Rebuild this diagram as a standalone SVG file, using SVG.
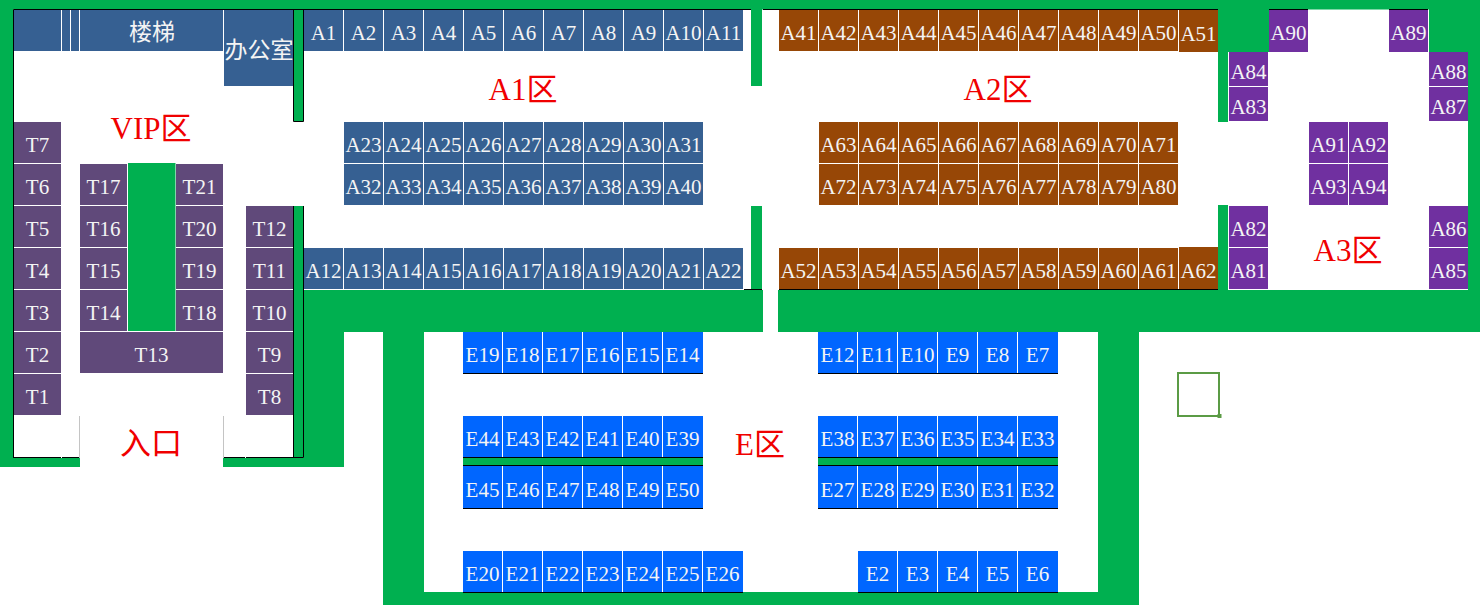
<svg xmlns="http://www.w3.org/2000/svg" width="1480" height="605" viewBox="0 0 1480 605">
<style>
text{font-family:"Liberation Serif","Noto Sans CJK SC",serif;text-anchor:middle;fill:#f4f4f4;font-size:21px}
.w{fill:#00b050}
.k{stroke:#000;stroke-width:1;fill:none}
.a rect{fill:#366092}.t rect{fill:#60497a}.b rect{fill:#974706}.p rect{fill:#7030a0}.e rect{fill:#0066ff}
text.r{fill:#f00000;font-size:31px}
text.c{font-size:23px}
</style>
<rect width="1480" height="605" fill="#fff"/>
<g id="walls">
<rect class="w" x="0" y="0" width="1480" height="9.5"/>
<rect class="w" x="0" y="0" width="13" height="467"/>
<rect class="w" x="0" y="458" width="80" height="9"/>
<rect class="w" x="223" y="458" width="121" height="9"/>
<rect class="w" x="293.500" y="10" width="10" height="111"/>
<rect class="w" x="293.500" y="206" width="10" height="252"/>
<rect class="w" x="304" y="290" width="40" height="177"/>
<rect class="w" x="304" y="290" width="459" height="42"/>
<rect class="w" x="778" y="290" width="702" height="42"/>
<rect class="w" x="383" y="332" width="41" height="273"/>
<rect class="w" x="383" y="592" width="756" height="13"/>
<rect class="w" x="1098" y="332" width="41" height="273"/>
<rect class="w" x="751" y="9" width="11" height="77"/>
<rect class="w" x="751" y="206" width="11" height="84"/>
<rect class="w" x="1218" y="9" width="10" height="113"/>
<rect class="w" x="1218" y="205" width="10" height="85"/>
<rect class="w" x="1219" y="9" width="50" height="43"/>
<rect class="w" x="1429" y="9" width="39" height="43"/>
<rect class="w" x="1468" y="0" width="12" height="332"/>
<rect class="w" x="128" y="163" width="47.500" height="168"/>
<rect class="w" x="463" y="458" width="240" height="8"/>
<rect class="w" x="818" y="458" width="240" height="8"/>
<path class="k" d="M13.500 458V9.500H751M763 9.500H1218M1269 9.500H1308M1389 9.500H1428M13 457.500H80M223 457.500H303.500V206M293.500 206V457M293.500 10V121.500H303.500V10M744 289.500H762M779 289.500H1218"/>
<path class="k" d="M463 373.500H703M818 373.500H1058M463 457.500H703M818 457.500H1058M463 465.500H703M818 465.500H1058M463 508.500H703M818 508.500H1058M463 592.500H743M858 592.500H1058"/>
<path d="M79.500 416V458M223.500 416V458" stroke="#c4c4c4" stroke-width="1" fill="none"/>
<path d="M61.500 452V458M245.500 452V458" stroke="#fff" stroke-width="1" fill="none"/>
</g>
<g id="stairs" class="a">
<rect x="14" y="10" width="47" height="41"/><rect x="62" y="10" width="8" height="41"/><rect x="71" y="10" width="8" height="41"/><rect x="80" y="10" width="143" height="41"/>
<text class="c" x="152" y="40">楼梯</text></g>
<g id="office" class="a"><rect x="224" y="10" width="69" height="76"/><text class="c" x="259" y="58">办公室</text></g>
<g id="T7" class="t"><rect x="14" y="122" width="47" height="41"/><text x="37.500" y="152">T7</text></g>
<g id="T6" class="t"><rect x="14" y="164" width="47" height="41"/><text x="37.500" y="194">T6</text></g>
<g id="T5" class="t"><rect x="14" y="206" width="47" height="41"/><text x="37.500" y="236">T5</text></g>
<g id="T4" class="t"><rect x="14" y="248" width="47" height="41"/><text x="37.500" y="278">T4</text></g>
<g id="T3" class="t"><rect x="14" y="290" width="47" height="41"/><text x="37.500" y="320">T3</text></g>
<g id="T2" class="t"><rect x="14" y="332" width="47" height="41"/><text x="37.500" y="362">T2</text></g>
<g id="T1" class="t"><rect x="14" y="374" width="47" height="41"/><text x="37.500" y="404">T1</text></g>
<g id="T17" class="t"><rect x="80" y="164" width="47" height="41"/><text x="103.500" y="194">T17</text></g>
<g id="T16" class="t"><rect x="80" y="206" width="47" height="41"/><text x="103.500" y="236">T16</text></g>
<g id="T15" class="t"><rect x="80" y="248" width="47" height="41"/><text x="103.500" y="278">T15</text></g>
<g id="T14" class="t"><rect x="80" y="290" width="47" height="41"/><text x="103.500" y="320">T14</text></g>
<g id="T13" class="t"><rect x="80" y="332" width="143" height="41"/><text x="151.500" y="362">T13</text></g>
<g id="T21" class="t"><rect x="176" y="164" width="47" height="41"/><text x="199.500" y="194">T21</text></g>
<g id="T20" class="t"><rect x="176" y="206" width="47" height="41"/><text x="199.500" y="236">T20</text></g>
<g id="T19" class="t"><rect x="176" y="248" width="47" height="41"/><text x="199.500" y="278">T19</text></g>
<g id="T18" class="t"><rect x="176" y="290" width="47" height="41"/><text x="199.500" y="320">T18</text></g>
<g id="T12" class="t"><rect x="246" y="206" width="47" height="41"/><text x="269.500" y="236">T12</text></g>
<g id="T11" class="t"><rect x="246" y="248" width="47" height="41"/><text x="269.500" y="278">T11</text></g>
<g id="T10" class="t"><rect x="246" y="290" width="47" height="41"/><text x="269.500" y="320">T10</text></g>
<g id="T9" class="t"><rect x="246" y="332" width="47" height="41"/><text x="269.500" y="362">T9</text></g>
<g id="T8" class="t"><rect x="246" y="374" width="47" height="41"/><text x="269.500" y="404">T8</text></g>
<g id="A1" class="a"><rect x="304" y="10" width="39" height="41"/><text x="323.500" y="40">A1</text></g>
<g id="A2" class="a"><rect x="344" y="10" width="39" height="41"/><text x="363.500" y="40">A2</text></g>
<g id="A3" class="a"><rect x="384" y="10" width="39" height="41"/><text x="403.500" y="40">A3</text></g>
<g id="A4" class="a"><rect x="424" y="10" width="39" height="41"/><text x="443.500" y="40">A4</text></g>
<g id="A5" class="a"><rect x="464" y="10" width="39" height="41"/><text x="483.500" y="40">A5</text></g>
<g id="A6" class="a"><rect x="504" y="10" width="39" height="41"/><text x="523.500" y="40">A6</text></g>
<g id="A7" class="a"><rect x="544" y="10" width="39" height="41"/><text x="563.500" y="40">A7</text></g>
<g id="A8" class="a"><rect x="584" y="10" width="39" height="41"/><text x="603.500" y="40">A8</text></g>
<g id="A9" class="a"><rect x="624" y="10" width="39" height="41"/><text x="643.500" y="40">A9</text></g>
<g id="A10" class="a"><rect x="664" y="10" width="39" height="41"/><text x="683.500" y="40">A10</text></g>
<g id="A11" class="a"><rect x="704" y="10" width="39" height="41"/><text x="723.500" y="40">A11</text></g>
<g id="A23" class="a"><rect x="344" y="122" width="39" height="41"/><text x="363.500" y="152">A23</text></g>
<g id="A24" class="a"><rect x="384" y="122" width="39" height="41"/><text x="403.500" y="152">A24</text></g>
<g id="A25" class="a"><rect x="424" y="122" width="39" height="41"/><text x="443.500" y="152">A25</text></g>
<g id="A26" class="a"><rect x="464" y="122" width="39" height="41"/><text x="483.500" y="152">A26</text></g>
<g id="A27" class="a"><rect x="504" y="122" width="39" height="41"/><text x="523.500" y="152">A27</text></g>
<g id="A28" class="a"><rect x="544" y="122" width="39" height="41"/><text x="563.500" y="152">A28</text></g>
<g id="A29" class="a"><rect x="584" y="122" width="39" height="41"/><text x="603.500" y="152">A29</text></g>
<g id="A30" class="a"><rect x="624" y="122" width="39" height="41"/><text x="643.500" y="152">A30</text></g>
<g id="A31" class="a"><rect x="664" y="122" width="39" height="41"/><text x="683.500" y="152">A31</text></g>
<g id="A32" class="a"><rect x="344" y="164" width="39" height="41"/><text x="363.500" y="194">A32</text></g>
<g id="A33" class="a"><rect x="384" y="164" width="39" height="41"/><text x="403.500" y="194">A33</text></g>
<g id="A34" class="a"><rect x="424" y="164" width="39" height="41"/><text x="443.500" y="194">A34</text></g>
<g id="A35" class="a"><rect x="464" y="164" width="39" height="41"/><text x="483.500" y="194">A35</text></g>
<g id="A36" class="a"><rect x="504" y="164" width="39" height="41"/><text x="523.500" y="194">A36</text></g>
<g id="A37" class="a"><rect x="544" y="164" width="39" height="41"/><text x="563.500" y="194">A37</text></g>
<g id="A38" class="a"><rect x="584" y="164" width="39" height="41"/><text x="603.500" y="194">A38</text></g>
<g id="A39" class="a"><rect x="624" y="164" width="39" height="41"/><text x="643.500" y="194">A39</text></g>
<g id="A40" class="a"><rect x="664" y="164" width="39" height="41"/><text x="683.500" y="194">A40</text></g>
<g id="A12" class="a"><rect x="304" y="248" width="39" height="41"/><text x="323.500" y="278">A12</text></g>
<g id="A13" class="a"><rect x="344" y="248" width="39" height="41"/><text x="363.500" y="278">A13</text></g>
<g id="A14" class="a"><rect x="384" y="248" width="39" height="41"/><text x="403.500" y="278">A14</text></g>
<g id="A15" class="a"><rect x="424" y="248" width="39" height="41"/><text x="443.500" y="278">A15</text></g>
<g id="A16" class="a"><rect x="464" y="248" width="39" height="41"/><text x="483.500" y="278">A16</text></g>
<g id="A17" class="a"><rect x="504" y="248" width="39" height="41"/><text x="523.500" y="278">A17</text></g>
<g id="A18" class="a"><rect x="544" y="248" width="39" height="41"/><text x="563.500" y="278">A18</text></g>
<g id="A19" class="a"><rect x="584" y="248" width="39" height="41"/><text x="603.500" y="278">A19</text></g>
<g id="A20" class="a"><rect x="624" y="248" width="39" height="41"/><text x="643.500" y="278">A20</text></g>
<g id="A21" class="a"><rect x="664" y="248" width="39" height="41"/><text x="683.500" y="278">A21</text></g>
<g id="A22" class="a"><rect x="704" y="248" width="39" height="41"/><text x="723.500" y="278">A22</text></g>
<g id="A41" class="b"><rect x="779" y="10" width="39" height="41"/><text x="798.500" y="40">A41</text></g>
<g id="A42" class="b"><rect x="819" y="10" width="39" height="41"/><text x="838.500" y="40">A42</text></g>
<g id="A43" class="b"><rect x="859" y="10" width="39" height="41"/><text x="878.500" y="40">A43</text></g>
<g id="A44" class="b"><rect x="899" y="10" width="39" height="41"/><text x="918.500" y="40">A44</text></g>
<g id="A45" class="b"><rect x="939" y="10" width="39" height="41"/><text x="958.500" y="40">A45</text></g>
<g id="A46" class="b"><rect x="979" y="10" width="39" height="41"/><text x="998.500" y="40">A46</text></g>
<g id="A47" class="b"><rect x="1019" y="10" width="39" height="41"/><text x="1038.500" y="40">A47</text></g>
<g id="A48" class="b"><rect x="1059" y="10" width="39" height="41"/><text x="1078.500" y="40">A48</text></g>
<g id="A49" class="b"><rect x="1099" y="10" width="39" height="41"/><text x="1118.500" y="40">A49</text></g>
<g id="A50" class="b"><rect x="1139" y="10" width="39" height="41"/><text x="1158.500" y="40">A50</text></g>
<g id="A51" class="b"><rect x="1179" y="10" width="39" height="42"/><text x="1198.500" y="41">A51</text></g>
<g id="A63" class="b"><rect x="819" y="122" width="39" height="41"/><text x="838.500" y="152">A63</text></g>
<g id="A64" class="b"><rect x="859" y="122" width="39" height="41"/><text x="878.500" y="152">A64</text></g>
<g id="A65" class="b"><rect x="899" y="122" width="39" height="41"/><text x="918.500" y="152">A65</text></g>
<g id="A66" class="b"><rect x="939" y="122" width="39" height="41"/><text x="958.500" y="152">A66</text></g>
<g id="A67" class="b"><rect x="979" y="122" width="39" height="41"/><text x="998.500" y="152">A67</text></g>
<g id="A68" class="b"><rect x="1019" y="122" width="39" height="41"/><text x="1038.500" y="152">A68</text></g>
<g id="A69" class="b"><rect x="1059" y="122" width="39" height="41"/><text x="1078.500" y="152">A69</text></g>
<g id="A70" class="b"><rect x="1099" y="122" width="39" height="41"/><text x="1118.500" y="152">A70</text></g>
<g id="A71" class="b"><rect x="1139" y="122" width="39" height="41"/><text x="1158.500" y="152">A71</text></g>
<g id="A72" class="b"><rect x="819" y="164" width="39" height="41"/><text x="838.500" y="194">A72</text></g>
<g id="A73" class="b"><rect x="859" y="164" width="39" height="41"/><text x="878.500" y="194">A73</text></g>
<g id="A74" class="b"><rect x="899" y="164" width="39" height="41"/><text x="918.500" y="194">A74</text></g>
<g id="A75" class="b"><rect x="939" y="164" width="39" height="41"/><text x="958.500" y="194">A75</text></g>
<g id="A76" class="b"><rect x="979" y="164" width="39" height="41"/><text x="998.500" y="194">A76</text></g>
<g id="A77" class="b"><rect x="1019" y="164" width="39" height="41"/><text x="1038.500" y="194">A77</text></g>
<g id="A78" class="b"><rect x="1059" y="164" width="39" height="41"/><text x="1078.500" y="194">A78</text></g>
<g id="A79" class="b"><rect x="1099" y="164" width="39" height="41"/><text x="1118.500" y="194">A79</text></g>
<g id="A80" class="b"><rect x="1139" y="164" width="39" height="41"/><text x="1158.500" y="194">A80</text></g>
<g id="A52" class="b"><rect x="779" y="248" width="39" height="41"/><text x="798.500" y="278">A52</text></g>
<g id="A53" class="b"><rect x="819" y="248" width="39" height="41"/><text x="838.500" y="278">A53</text></g>
<g id="A54" class="b"><rect x="859" y="248" width="39" height="41"/><text x="878.500" y="278">A54</text></g>
<g id="A55" class="b"><rect x="899" y="248" width="39" height="41"/><text x="918.500" y="278">A55</text></g>
<g id="A56" class="b"><rect x="939" y="248" width="39" height="41"/><text x="958.500" y="278">A56</text></g>
<g id="A57" class="b"><rect x="979" y="248" width="39" height="41"/><text x="998.500" y="278">A57</text></g>
<g id="A58" class="b"><rect x="1019" y="248" width="39" height="41"/><text x="1038.500" y="278">A58</text></g>
<g id="A59" class="b"><rect x="1059" y="248" width="39" height="41"/><text x="1078.500" y="278">A59</text></g>
<g id="A60" class="b"><rect x="1099" y="248" width="39" height="41"/><text x="1118.500" y="278">A60</text></g>
<g id="A61" class="b"><rect x="1139" y="248" width="39" height="41"/><text x="1158.500" y="278">A61</text></g>
<g id="A62" class="b"><rect x="1179" y="247" width="39" height="42"/><text x="1198.500" y="278">A62</text></g>
<g id="A90" class="p"><rect x="1269" y="10" width="39" height="42"/><text x="1288.500" y="40">A90</text></g>
<g id="A89" class="p"><rect x="1389" y="10" width="39" height="42"/><text x="1408.500" y="40">A89</text></g>
<g id="A84" class="p"><rect x="1229" y="52" width="39" height="34"/><text x="1248.500" y="79">A84</text></g>
<g id="A83" class="p"><rect x="1229" y="87" width="39" height="34"/><text x="1248.500" y="114">A83</text></g>
<g id="A88" class="p"><rect x="1429" y="52" width="39" height="34"/><text x="1448.500" y="79">A88</text></g>
<g id="A87" class="p"><rect x="1429" y="87" width="39" height="34"/><text x="1448.500" y="114">A87</text></g>
<g id="A91" class="p"><rect x="1309" y="122" width="39" height="41"/><text x="1328.500" y="152">A91</text></g>
<g id="A92" class="p"><rect x="1349" y="122" width="39" height="41"/><text x="1368.500" y="152">A92</text></g>
<g id="A93" class="p"><rect x="1309" y="164" width="39" height="41"/><text x="1328.500" y="194">A93</text></g>
<g id="A94" class="p"><rect x="1349" y="164" width="39" height="41"/><text x="1368.500" y="194">A94</text></g>
<g id="A82" class="p"><rect x="1229" y="206" width="39" height="41"/><text x="1248.500" y="236">A82</text></g>
<g id="A81" class="p"><rect x="1229" y="248" width="39" height="41"/><text x="1248.500" y="278">A81</text></g>
<g id="A86" class="p"><rect x="1429" y="206" width="39" height="41"/><text x="1448.500" y="236">A86</text></g>
<g id="A85" class="p"><rect x="1429" y="248" width="39" height="41"/><text x="1448.500" y="278">A85</text></g>
<g id="E19" class="e"><rect x="463" y="332" width="39" height="41"/><text x="482.500" y="362">E19</text></g>
<g id="E18" class="e"><rect x="503" y="332" width="39" height="41"/><text x="522.500" y="362">E18</text></g>
<g id="E17" class="e"><rect x="543" y="332" width="39" height="41"/><text x="562.500" y="362">E17</text></g>
<g id="E16" class="e"><rect x="583" y="332" width="39" height="41"/><text x="602.500" y="362">E16</text></g>
<g id="E15" class="e"><rect x="623" y="332" width="39" height="41"/><text x="642.500" y="362">E15</text></g>
<g id="E14" class="e"><rect x="663" y="332" width="40" height="41"/><text x="682.500" y="362">E14</text></g>
<g id="E12" class="e"><rect x="818" y="332" width="39" height="41"/><text x="837.500" y="362">E12</text></g>
<g id="E11" class="e"><rect x="858" y="332" width="39" height="41"/><text x="877.500" y="362">E11</text></g>
<g id="E10" class="e"><rect x="898" y="332" width="39" height="41"/><text x="917.500" y="362">E10</text></g>
<g id="E9" class="e"><rect x="938" y="332" width="39" height="41"/><text x="957.500" y="362">E9</text></g>
<g id="E8" class="e"><rect x="978" y="332" width="39" height="41"/><text x="997.500" y="362">E8</text></g>
<g id="E7" class="e"><rect x="1018" y="332" width="40" height="41"/><text x="1037.500" y="362">E7</text></g>
<g id="E44" class="e"><rect x="463" y="416" width="39" height="41"/><text x="482.500" y="446">E44</text></g>
<g id="E43" class="e"><rect x="503" y="416" width="39" height="41"/><text x="522.500" y="446">E43</text></g>
<g id="E42" class="e"><rect x="543" y="416" width="39" height="41"/><text x="562.500" y="446">E42</text></g>
<g id="E41" class="e"><rect x="583" y="416" width="39" height="41"/><text x="602.500" y="446">E41</text></g>
<g id="E40" class="e"><rect x="623" y="416" width="39" height="41"/><text x="642.500" y="446">E40</text></g>
<g id="E39" class="e"><rect x="663" y="416" width="40" height="41"/><text x="682.500" y="446">E39</text></g>
<g id="E38" class="e"><rect x="818" y="416" width="39" height="41"/><text x="837.500" y="446">E38</text></g>
<g id="E37" class="e"><rect x="858" y="416" width="39" height="41"/><text x="877.500" y="446">E37</text></g>
<g id="E36" class="e"><rect x="898" y="416" width="39" height="41"/><text x="917.500" y="446">E36</text></g>
<g id="E35" class="e"><rect x="938" y="416" width="39" height="41"/><text x="957.500" y="446">E35</text></g>
<g id="E34" class="e"><rect x="978" y="416" width="39" height="41"/><text x="997.500" y="446">E34</text></g>
<g id="E33" class="e"><rect x="1018" y="416" width="40" height="41"/><text x="1037.500" y="446">E33</text></g>
<g id="E45" class="e"><rect x="463" y="466" width="39" height="42"/><text x="482.500" y="497">E45</text></g>
<g id="E46" class="e"><rect x="503" y="466" width="39" height="42"/><text x="522.500" y="497">E46</text></g>
<g id="E47" class="e"><rect x="543" y="466" width="39" height="42"/><text x="562.500" y="497">E47</text></g>
<g id="E48" class="e"><rect x="583" y="466" width="39" height="42"/><text x="602.500" y="497">E48</text></g>
<g id="E49" class="e"><rect x="623" y="466" width="39" height="42"/><text x="642.500" y="497">E49</text></g>
<g id="E50" class="e"><rect x="663" y="466" width="40" height="42"/><text x="682.500" y="497">E50</text></g>
<g id="E27" class="e"><rect x="818" y="466" width="39" height="42"/><text x="837.500" y="497">E27</text></g>
<g id="E28" class="e"><rect x="858" y="466" width="39" height="42"/><text x="877.500" y="497">E28</text></g>
<g id="E29" class="e"><rect x="898" y="466" width="39" height="42"/><text x="917.500" y="497">E29</text></g>
<g id="E30" class="e"><rect x="938" y="466" width="39" height="42"/><text x="957.500" y="497">E30</text></g>
<g id="E31" class="e"><rect x="978" y="466" width="39" height="42"/><text x="997.500" y="497">E31</text></g>
<g id="E32" class="e"><rect x="1018" y="466" width="40" height="42"/><text x="1037.500" y="497">E32</text></g>
<g id="E20" class="e"><rect x="463" y="551" width="39" height="41"/><text x="482.500" y="581">E20</text></g>
<g id="E21" class="e"><rect x="503" y="551" width="39" height="41"/><text x="522.500" y="581">E21</text></g>
<g id="E22" class="e"><rect x="543" y="551" width="39" height="41"/><text x="562.500" y="581">E22</text></g>
<g id="E23" class="e"><rect x="583" y="551" width="39" height="41"/><text x="602.500" y="581">E23</text></g>
<g id="E24" class="e"><rect x="623" y="551" width="39" height="41"/><text x="642.500" y="581">E24</text></g>
<g id="E25" class="e"><rect x="663" y="551" width="39" height="41"/><text x="682.500" y="581">E25</text></g>
<g id="E26" class="e"><rect x="703" y="551" width="40" height="41"/><text x="722.500" y="581">E26</text></g>
<g id="E2" class="e"><rect x="858" y="551" width="39" height="41"/><text x="877.500" y="581">E2</text></g>
<g id="E3" class="e"><rect x="898" y="551" width="39" height="41"/><text x="917.500" y="581">E3</text></g>
<g id="E4" class="e"><rect x="938" y="551" width="39" height="41"/><text x="957.500" y="581">E4</text></g>
<g id="E5" class="e"><rect x="978" y="551" width="39" height="41"/><text x="997.500" y="581">E5</text></g>
<g id="E6" class="e"><rect x="1018" y="551" width="40" height="41"/><text x="1037.500" y="581">E6</text></g>
<g id="labels">
<text class="r" x="523" y="100">A1区</text>
<text class="r" x="998" y="100">A2区</text>
<text class="r" x="1348" y="261">A3区</text>
<text class="r" x="151" y="139">VIP区</text>
<text class="r" x="151" y="454">入口</text>
<text class="r" x="760" y="455">E区</text>
</g>
<g id="square">
<rect x="1178" y="373" width="41" height="43" fill="none" stroke="#5b9b45" stroke-width="2"/>
<rect x="1217.500" y="414" width="4" height="4" fill="#5b9b45"/>
</g>
</svg>
